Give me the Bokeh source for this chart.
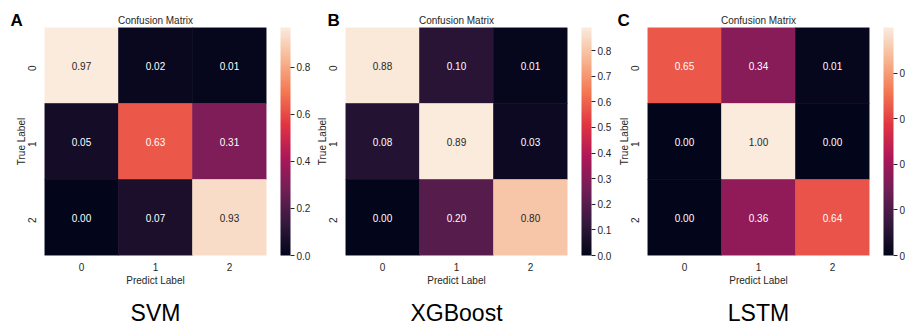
import math
import numpy as np
from bokeh.plotting import figure
from bokeh.models import (ColumnDataSource, LinearColorMapper, ColorBar, FixedTicker,
                          Label, FactorRange, PrintfTickFormatter)
from bokeh.layouts import row
from bokeh.embed import file_html
from bokeh.resources import INLINE
from bokeh.core.properties import value

# ---------------- data ----------------
classes = ["0", "1", "2"]
svm_matrix = [[0.97, 0.02, 0.01],
              [0.05, 0.63, 0.31],
              [0.00, 0.07, 0.93]]
xgb_matrix = [[0.88, 0.10, 0.01],
              [0.08, 0.89, 0.03],
              [0.00, 0.20, 0.80]]
lstm_matrix = [[0.65, 0.34, 0.01],
               [0.00, 1.00, 0.00],
               [0.00, 0.36, 0.64]]
panel_letters = ["A", "B", "C"]
model_names = ["SVM", "XGBoost", "LSTM"]
cbar_ticks_svm = [0.0, 0.2, 0.4, 0.6, 0.8]
cbar_ticks_xgb = [0.0, 0.1, 0.2, 0.3, 0.4, 0.5, 0.6, 0.7, 0.8]
cbar_ticks_lstm = [0.0, 0.2, 0.4, 0.6, 0.8]

# ---------------- style ----------------
FONT = "Liberation Sans"
TXT = "#262626"
rocket_anchors = ["#03051a", "#35193e", "#701f57", "#ad1759", "#e13342",
                  "#f37651", "#f6b48f", "#faebdd"]


def hex2rgb(h):
    h = h.lstrip("#")
    return [int(h[i:i + 2], 16) for i in (0, 2, 4)]


anc = np.array([hex2rgb(c) for c in rocket_anchors], dtype=float)
pos = np.linspace(0, 1, len(anc))
t = np.linspace(0, 1, 256)
rgb = np.stack([np.interp(t, pos, anc[:, k]) for k in range(3)], axis=1)
ROCKET = ["#%02x%02x%02x" % tuple(int(round(v)) for v in c) for c in rgb]


def luminance(c):
    c = np.asarray(c) / 255.0
    c = np.where(c <= 0.03928, c / 12.92, ((c + 0.055) / 1.055) ** 2.4)
    return 0.2126 * c[0] + 0.7152 * c[1] + 0.0722 * c[2]


FIG_H = 325
FRAME_W, FRAME_H = 222, 228
TOP = 27
XAXIS_H = 31      # approx. height of the x-axis block (ticks + labels)
CM_SLOT = 11.5    # approx. text-box height of the 10px title label


def make_panel(matrix, letter, name, ticks, width, left_border, letter_px):
    vmax = max(max(r) for r in matrix)
    vmin = min(min(r) for r in matrix)
    mapper = LinearColorMapper(palette=ROCKET, low=vmin, high=vmax)
    xs, ys, vs, labels, tcs = [], [], [], [], []
    for i, r in enumerate(matrix):
        for j, v in enumerate(r):
            xs.append(classes[j])
            ys.append(classes[i])
            vs.append(v)
            labels.append("%.2f" % v)
            idx = int(round((v - vmin) / (vmax - vmin) * 255))
            tcs.append(TXT if luminance(rgb[idx]) > 0.408 else "#ffffff")
    src = ColumnDataSource(dict(x=xs, y=ys, v=vs, label=labels, tc=tcs))

    right_border = width - left_border - FRAME_W
    frame_right = left_border + FRAME_W
    frame_bottom = TOP + FRAME_H

    p = figure(width=width, height=FIG_H,
               x_range=FactorRange(*classes), y_range=FactorRange(*classes[::-1]),
               output_backend="svg", toolbar_location=None, title=None,
               min_border_left=left_border, min_border_right=right_border,
               min_border_top=TOP, min_border_bottom=FIG_H - TOP - FRAME_H)
    p.rect(x="x", y="y", width=1, height=1, source=src,
           fill_color={"field": "v", "transform": mapper},
           line_color={"field": "v", "transform": mapper}, line_width=0.6)
    p.text(x="x", y="y", text="label", source=src, text_color="tc",
           text_align="center", text_baseline="middle",
           text_font=value(FONT), text_font_size="10px")

    p.grid.visible = False
    p.outline_line_color = None
    for ax in (p.xaxis, p.yaxis):
        ax.axis_line_color = None
        ax.major_tick_line_color = None
        ax.minor_tick_line_color = None
        ax.major_label_text_font = FONT
        ax.major_label_text_font_size = "10px"
        ax.major_label_text_color = TXT
        ax.axis_label_text_font = FONT
        ax.axis_label_text_font_style = "normal"
        ax.axis_label_text_font_size = "10px"
        ax.axis_label_text_color = TXT
    p.xaxis.axis_label = "Predict Label"
    p.yaxis.axis_label = "True Label"
    p.xaxis.major_label_standoff = 1
    p.xaxis.axis_label_standoff = 1
    p.yaxis.major_label_standoff = 7
    p.yaxis.axis_label_standoff = -6
    p.yaxis.major_label_orientation = math.pi / 2

    cb = ColorBar(color_mapper=mapper, ticker=FixedTicker(ticks=ticks),
                  formatter=PrintfTickFormatter(format="%.1f"),
                  width=10, height=FRAME_H, location=(FRAME_W + 14, 0),
                  padding=0, margin=0, background_fill_color=None,
                  bar_line_color=None, border_line_color=None,
                  major_tick_out=4, major_tick_in=0,
                  major_tick_line_color=TXT, label_standoff=2,
                  major_label_text_font=FONT, major_label_text_font_size="10px",
                  major_label_text_color=TXT)
    p.add_layout(cb)

    # labels in side panels (these are not clipped to the frame)
    # panel letter: right panel, slot starts at the frame's right edge
    p.add_layout(Label(x=letter_px - frame_right, y=frame_bottom - 20,
                       x_units="screen", y_units="screen",
                       text=letter, text_font=FONT, text_font_style="bold",
                       text_font_size="17px", text_color="#000000",
                       text_baseline="middle"), "right")
    # model name: above panel, slot bottom = frame top
    p.add_layout(Label(x=FRAME_W / 2, y=TOP - 312,
                       x_units="screen", y_units="screen",
                       text=name, text_font=FONT, text_font_size="23px",
                       text_color="#000000", text_align="center",
                       text_baseline="middle"), "above")
    # title: below panel, slot after the x-axis
    cm_slot_bottom = frame_bottom + XAXIS_H + CM_SLOT
    p.add_layout(Label(x=FRAME_W / 2, y=cm_slot_bottom - 18.5,
                       x_units="screen", y_units="screen",
                       text="Confusion Matrix", text_font=FONT,
                       text_font_size="10px", text_color=TXT,
                       text_align="center", text_baseline="middle"), "below")
    return p


pA = make_panel(svm_matrix, panel_letters[0], model_names[0], cbar_ticks_svm, 311, 44, 10)
pB = make_panel(xgb_matrix, panel_letters[1], model_names[1], cbar_ticks_xgb, 301, 34, 327 - 311)
pC = make_panel(lstm_matrix, panel_letters[2], model_names[2], cbar_ticks_lstm, 293, 35, 617 - 612)

layout = row(pA, pB, pC)
open("out.html", "w").write(file_html(layout, INLINE))
